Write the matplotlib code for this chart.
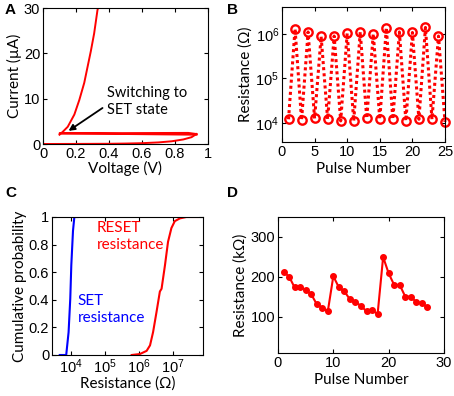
import matplotlib
matplotlib.use('Agg')
import matplotlib.pyplot as plt
import numpy as np

plt.rcParams['font.family'] = ['Liberation Sans', 'DejaVu Sans']
plt.rcParams['mathtext.fontset'] = 'custom'
plt.rcParams['mathtext.rm'] = 'Liberation Sans'
plt.rcParams['xtick.direction'] = 'in'
plt.rcParams['ytick.direction'] = 'in'
plt.rcParams['xtick.top'] = True
plt.rcParams['ytick.right'] = True
plt.rcParams['xtick.major.size'] = 3
plt.rcParams['ytick.major.size'] = 3
plt.rcParams['xtick.minor.size'] = 1.8
plt.rcParams['ytick.minor.size'] = 1.8
plt.rcParams['axes.linewidth'] = 0.8

red = '#ff0000'
blue = '#0000ff'
label_font = 'Lato'
tick_size = 10.5
label_size = 11

# ---- panel A: I-V sweep ----
v_low = [0.0, 0.2, 0.4, 0.5, 0.6, 0.7, 0.78, 0.85, 0.9, 0.93]
i_low = [0.0, 0.02, 0.05, 0.1, 0.18, 0.35, 0.6, 1.0, 1.5, 2.2]
v_comp = [0.93, 0.88, 0.10, 0.93]
i_comp = [2.2, 2.45, 2.35, 2.05]
v_on = [0.10, 0.12, 0.15, 0.19, 0.22, 0.25, 0.27, 0.29, 0.31, 0.33, 0.34]
i_on = [2.05, 2.7, 3.8, 6.5, 9.7, 13.5, 17.0, 20.5, 24.4, 29.5, 31.0]

# ---- panel B: switching endurance ----
pulse_b = np.arange(1, 26)
res_b = [1.2e4, 1.3e6, 1.15e4, 1.1e6, 1.25e4, 0.87e6, 1.2e4, 0.89e6, 1.1e4,
         1.03e6, 1.1e4, 1.1e6, 1.25e4, 1.0e6, 1.2e4, 1.37e6, 1.2e4, 1.1e6,
         1.1e4, 1.07e6, 1.2e4, 1.39e6, 1.2e4, 0.89e6, 1.05e4]

# ---- panel C: cumulative distributions ----
set_logr = [3.66, 3.85, 3.92, 3.97, 4.0, 4.05, 4.09, 4.19]
set_prob = [0.0, 0.0, 0.165, 0.41, 0.65, 0.9, 1.0, 1.0]
reset_logr = [5.78, 6.02, 6.22, 6.32, 6.41, 6.51, 6.59, 6.61, 6.66, 6.76,
              6.85, 6.95, 7.05, 7.20, 7.39, 7.73]
reset_prob = [0.0, 0.007, 0.03, 0.07, 0.166, 0.31, 0.43, 0.46, 0.48, 0.65,
              0.82, 0.92, 0.97, 0.99, 1.0, 1.0]

# ---- panel D: pulse-by-pulse resistance ----
pulse_d = np.arange(1, 28)
res_d = [213, 201, 174, 175, 168, 157, 132, 123, 114, 202, 174, 164, 144,
         137, 128, 114, 118, 107, 250, 209, 180, 180, 151, 151, 137, 135, 124]

W, H = 454, 396
fig = plt.figure(figsize=(W / 100, H / 100), dpi=100)
fig.patch.set_facecolor('white')

def box(l, r, t, b):
    return [l / W, 1 - b / H, (r - l) / W, (b - t) / H]

axA = fig.add_axes(box(43, 208, 8, 144))
axB = fig.add_axes(box(282, 445, 7, 142))
axC = fig.add_axes(box(52, 203, 217, 355))
axD = fig.add_axes(box(278, 444, 217, 353))

# A
axA.plot(v_low, i_low, color=red, lw=1.4)
axA.plot(v_comp, i_comp, color=red, lw=1.4)
axA.plot(v_on, i_on, color=red, lw=1.4)
axA.set_xlim(0, 1)
axA.set_ylim(0, 30)
axA.set_xticks([0, 0.2, 0.4, 0.6, 0.8, 1])
axA.set_xticklabels(['0', '0.2', '0.4', '0.6', '0.8', '1'])
axA.set_yticks([0, 10, 20, 30])
axA.annotate('Switching to\nSET state', xy=(0.155, 2.9), xytext=(0.385, 9.3),
             fontsize=10.5, family=label_font, va='center', ha='left',
             linespacing=1.25,
             arrowprops=dict(arrowstyle='-|>', color='black', lw=1.3,
                             mutation_scale=9, shrinkA=0, shrinkB=0,
                             relpos=(-0.05, 0.3)))
axA.set_xlabel('Voltage (V)', family=label_font, fontsize=label_size, labelpad=0)
axA.set_ylabel('Current (\u00b5A)', family=label_font, fontsize=label_size, labelpad=1)

# B
axB.semilogy(pulse_b, res_b, color=red, lw=2.2, ls=(0, (1.0, 1.0)), marker='o',
             ms=6, mfc='none', mec=red, mew=1.7, clip_on=False)
axB.set_xlim(0, 25)
axB.set_ylim(3.7e3, 4e6)
axB.set_xticks([0, 5, 10, 15, 20, 25])
axB.set_yticks([1e4, 1e5, 1e6])
axB.minorticks_off()
axB.set_xlabel('Pulse Number', family=label_font, fontsize=label_size, labelpad=2)
axB.set_ylabel('Resistance (\u03a9)', family=label_font, fontsize=label_size, labelpad=2)

# C
axC.semilogx(10 ** np.array(set_logr), set_prob, color=blue, lw=1.5)
axC.semilogx(10 ** np.array(reset_logr), reset_prob, color=red, lw=1.5)
axC.set_xlim(2.7e3, 7.6e7)
axC.set_ylim(0, 1)
axC.set_xticks([1e4, 1e5, 1e6, 1e7])
axC.set_yticks([0, 0.2, 0.4, 0.6, 0.8, 1])
axC.set_yticklabels(['0', '0.2', '0.4', '0.6', '0.8', '1'])
axC.text(0.295, 0.86, 'RESET\nresistance', transform=axC.transAxes, color=red,
         fontsize=11, family=label_font, va='center', ha='left', linespacing=1.25)
axC.text(0.17, 0.33, 'SET\nresistance', transform=axC.transAxes, color=blue,
         fontsize=11, family=label_font, va='center', ha='left', linespacing=1.25)
axC.set_xlabel('Resistance (\u03a9)', family=label_font, fontsize=label_size, labelpad=0)
axC.set_ylabel('Cumulative probability', family=label_font, fontsize=label_size, labelpad=1)

# D
axD.plot(pulse_d, res_d, color=red, lw=1.5, marker='o', ms=4)
axD.set_xlim(0, 30)
axD.set_ylim(10, 350)
axD.set_xticks([0, 10, 20, 30])
axD.set_yticks([100, 200, 300])
axD.set_xlabel('Pulse Number', family=label_font, fontsize=label_size, labelpad=2)
axD.set_ylabel('Resistance (k\u03a9)', family=label_font, fontsize=label_size, labelpad=2)

for ax in (axA, axB, axC, axD):
    ax.tick_params(labelsize=tick_size, pad=2)
    ax.tick_params(which='both', top=True, right=True)

for letter, x, y in [('A', 10, 10), ('B', 232, 10), ('C', 11, 193), ('D', 232, 193)]:
    fig.text(x / W, 1 - y / H, letter, fontsize=11, fontweight='bold',
             ha='center', va='center')

fig.savefig('out.png', dpi=100, facecolor='white')
